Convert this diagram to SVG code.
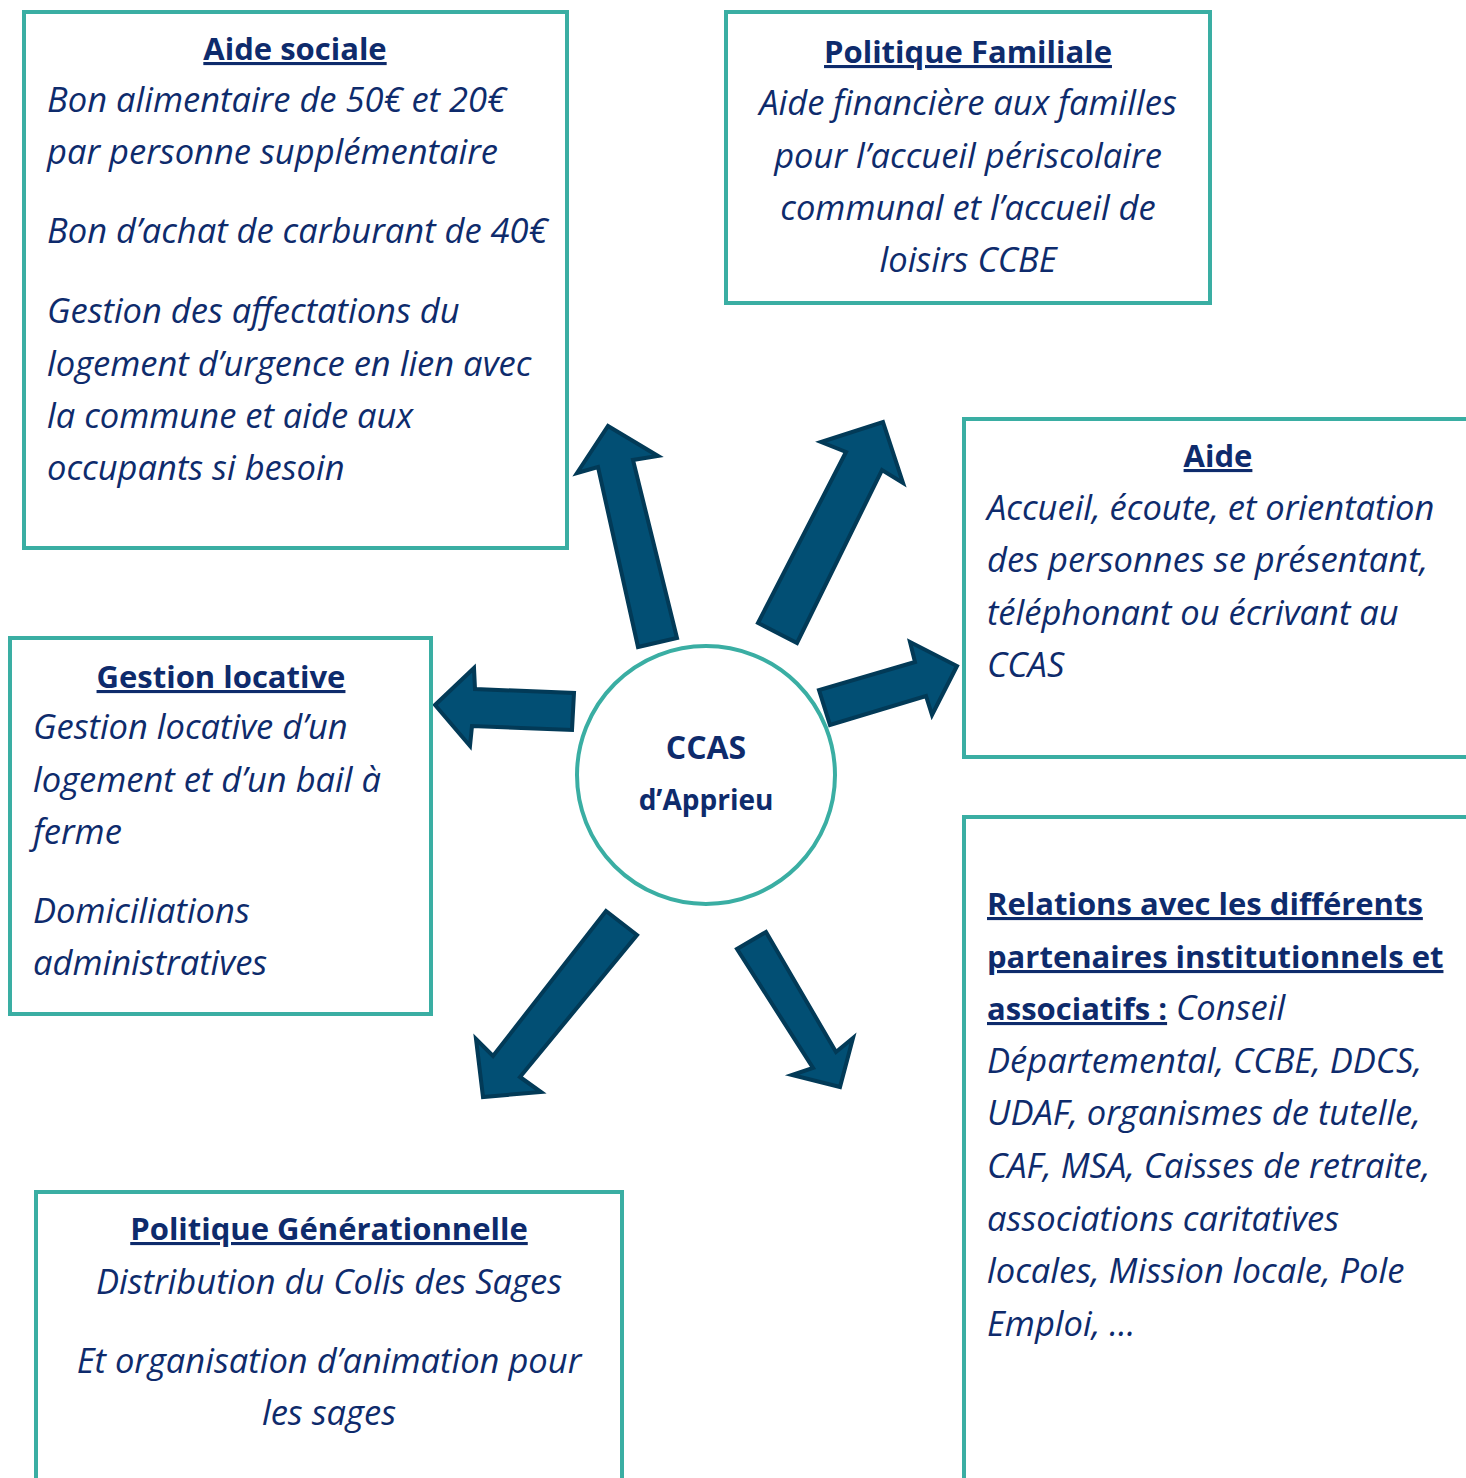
<svg xmlns="http://www.w3.org/2000/svg" width="1466" height="1478" viewBox="0 0 1466 1478">
<style>
.box{fill:#fff;stroke:#3aaea3;stroke-width:4}
.t{font-family:"Open Sans","Noto Sans","Liberation Sans",sans-serif;font-size:34.5px;fill:#0e2b6c;font-style:italic}
.h{font-family:"Open Sans","Noto Sans","Liberation Sans",sans-serif;font-size:31px;fill:#0e2b6c;font-weight:bold;text-decoration:underline}
.c{font-family:"Open Sans","Noto Sans","Liberation Sans",sans-serif;fill:#0e2b6c;font-weight:bold;text-anchor:middle}
.m{text-anchor:middle}
.arr{fill:#024f74;stroke:#023a57;stroke-width:4;stroke-linejoin:miter}
</style>
<rect width="1466" height="1478" fill="#fff"/>
<g id="connectors">
<polygon class="arr" points="608,426 658,456 633,460 677,638 638,647 598,467 577,473"/>
<polygon class="arr" points="883,422 903,483 882,470 797,643 758,623 846,452 821,442"/>
<polygon class="arr" points="957,666 932,715 926,696 830,725 819,690 915,662 910,642"/>
<polygon class="arr" points="435,705 474,668 475,689 574,693 572,730 472,726 470,746"/>
<polygon class="arr" points="483,1097 476,1039 493,1056 606,911 637,935 520,1077 541,1092"/>
<polygon class="arr" points="840,1087 792,1075 813,1068 737,949 766,932 836,1052 853,1038"/>
</g>
<g id="aide-sociale">
<rect class="box" x="24" y="12" width="543" height="536"/>
<text class="h m" x="295" y="60">Aide sociale</text>
<text class="t" x="47" y="112">Bon alimentaire de 50€ et 20€</text>
<text class="t" x="47" y="164">par personne supplémentaire</text>
<text class="t" x="47" y="243">Bon d’achat de carburant de 40€</text>
<text class="t" x="47" y="323">Gestion des affectations du</text>
<text class="t" x="47" y="376">logement d’urgence en lien avec</text>
<text class="t" x="47" y="428">la commune et aide aux</text>
<text class="t" x="47" y="480">occupants si besoin</text>
</g>
<g id="politique-familiale">
<rect class="box" x="726" y="12" width="484" height="291"/>
<text class="h m" x="968" y="63">Politique Familiale</text>
<text class="t m" x="968" y="115">Aide financière aux familles</text>
<text class="t m" x="968" y="168">pour l’accueil périscolaire</text>
<text class="t m" x="968" y="220">communal et l’accueil de</text>
<text class="t m" x="968" y="272">loisirs CCBE</text>
</g>
<g id="aide">
<rect class="box" x="964" y="419" width="510" height="338"/>
<text class="h m" x="1218" y="467">Aide</text>
<text class="t" x="987" y="520">Accueil, écoute, et orientation</text>
<text class="t" x="987" y="572">des personnes se présentant,</text>
<text class="t" x="987" y="625">téléphonant ou écrivant au</text>
<text class="t" x="987" y="677">CCAS</text>
</g>
<g id="gestion-locative">
<rect class="box" x="10" y="638" width="421" height="376"/>
<text class="h m" x="221" y="688">Gestion locative</text>
<text class="t" x="33" y="739">Gestion locative d’un</text>
<text class="t" x="33" y="792">logement et d’un bail à</text>
<text class="t" x="33" y="844">ferme</text>
<text class="t" x="33" y="923">Domiciliations</text>
<text class="t" x="33" y="975">administratives</text>
</g>
<g id="ccas">
<circle cx="706" cy="775" r="129" fill="#fff" stroke="#3aaea3" stroke-width="4"/>
<text class="c" x="706" y="759" font-size="32">CCAS</text>
<text class="c" x="706" y="810" font-size="28">d’Apprieu</text>
</g>
<g id="relations">
<rect class="box" x="964" y="817" width="510" height="680"/>
<text class="h" x="987" y="915">Relations avec les différents</text>
<text class="h" x="987" y="968">partenaires institutionnels et</text>
<text x="987" y="1020"><tspan class="h">associatifs :</tspan><tspan class="t"> Conseil</tspan></text>
<text class="t" x="987" y="1073">Départemental, CCBE, DDCS,</text>
<text class="t" x="987" y="1125">UDAF, organismes de tutelle,</text>
<text class="t" x="987" y="1178">CAF, MSA, Caisses de retraite,</text>
<text class="t" x="987" y="1231">associations caritatives</text>
<text class="t" x="987" y="1283">locales, Mission locale, Pole</text>
<text class="t" x="987" y="1336">Emploi, …</text>
</g>
<g id="politique-generationnelle">
<rect class="box" x="36" y="1192" width="586" height="300"/>
<text class="h m" x="329" y="1240">Politique Générationnelle</text>
<text class="t m" x="329" y="1294">Distribution du Colis des Sages</text>
<text class="t m" x="329" y="1373">Et organisation d’animation pour</text>
<text class="t m" x="329" y="1425">les sages</text>
</g>
</svg>
